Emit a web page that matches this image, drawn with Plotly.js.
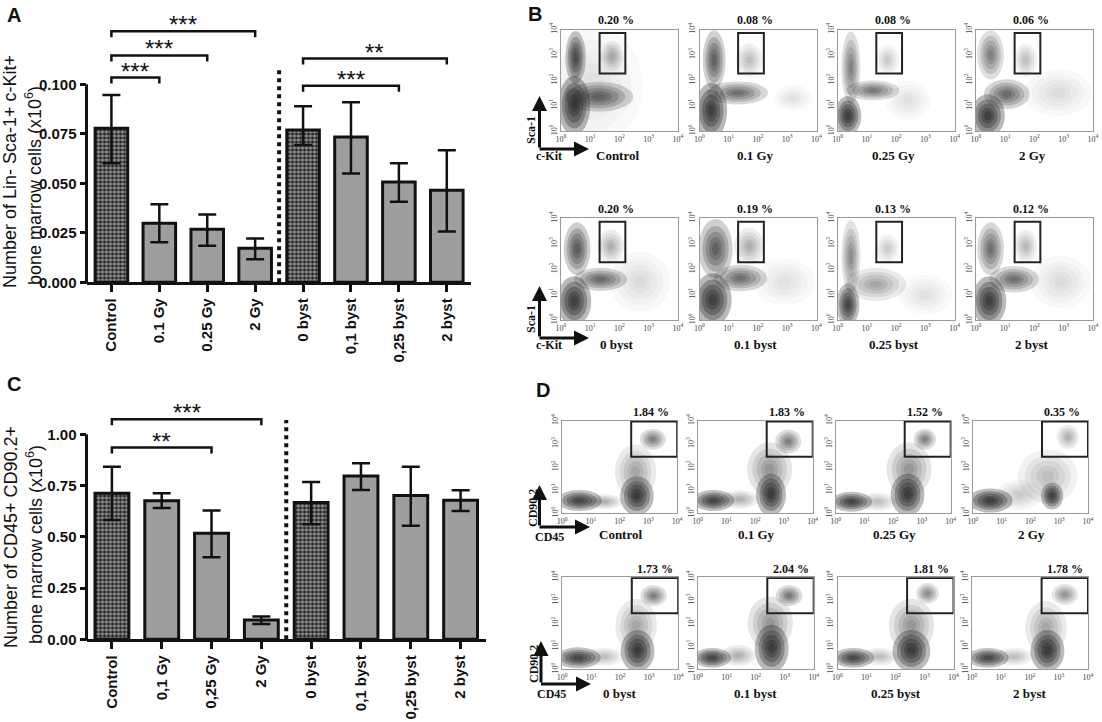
<!DOCTYPE html>
<html><head><meta charset="utf-8">
<script src="https://cdn.plot.ly/plotly-3.0.1.min.js"></script>
<style>html,body{margin:0;padding:0;background:#fff}#chart{width:1102px;height:722px}</style>
</head><body><div id="chart"></div>
<script>
// ---------------- DATA ----------------
const categoriesA = ['Control','0.1 Gy','0.25 Gy','2 Gy','0 byst','0,1 byst','0,25 byst','2 byst'];
const meanA  = [0.0778,0.0298,0.0268,0.0172,0.0769,0.0734,0.0507,0.0465];
const upperA = [0.0946,0.0394,0.0343,0.0221,0.0889,0.0909,0.0601,0.0667];
const lowerA = [0.0601,0.0202,0.0185,0.0116,0.0694,0.0549,0.0407,0.0256];
const patternedA = [true,false,false,false,true,false,false,false];
const sigFromA = [0,0,0,4,4];
const sigToA   = [3,2,1,7,6];
const sigLevelA = [0.1268,0.1146,0.1034,0.1130,0.0993];
const sigTextA = ['***','***','***','**','***'];
const yTicksA = [0,0.025,0.05,0.075,0.1];

const categoriesC = ['Control','0,1 Gy','0,25 Gy','2 Gy','0 byst','0,1 byst','0,25 byst','2 byst'];
const meanC  = [0.712,0.676,0.517,0.094,0.667,0.797,0.701,0.678];
const upperC = [0.842,0.712,0.628,0.111,0.767,0.859,0.842,0.727];
const lowerC = [0.582,0.640,0.400,0.075,0.561,0.728,0.554,0.626];
const patternedC = [true,false,false,false,true,false,false,false];
const sigFromC = [0,0];
const sigToC   = [3,2];
const sigLevelC = [1.073,0.935];
const sigTextC = ['***','**'];
const yTicksC = [0,0.25,0.5,0.75,1];

const titleA = ['Number of Lin- Sca-1+ c-Kit+','bone marrow cells (x10<sup>6</sup>)'];
const titleC = ['Number of CD45+ CD90.2+','bone marrow cells (x10<sup>6</sup>)'];

const bTopConditions = ['Control','0.1 Gy','0.25 Gy','2 Gy'];
const bTopPercents = ['0.20 %','0.08 %','0.08 %','0.06 %'];
const bBottomConditions = ['0 byst','0.1 byst','0.25 byst','2 byst'];
const bBottomPercents = ['0.20 %','0.19 %','0.13 %','0.12 %'];
const dTopConditions = ['Control','0.1 Gy','0.25 Gy','2 Gy'];
const dTopPercents = ['1.84 %','1.83 %','1.52 %','0.35 %'];
const dBottomConditions = ['0 byst','0.1 byst','0.25 byst','2 byst'];
const dBottomPercents = ['1.73 %','2.04 %','1.81 %','1.78 %'];
const decadeTickText = ['10<sup>0</sup>','10<sup>1</sup>','10<sup>2</sup>','10<sup>3</sup>','10<sup>4</sup>'];
const decadeTickVals = [0,1,2,3,4];
// gates in log10 units: [x0, x1, y0, y1]
const gateB = [1.32, 2.2, 2.27, 3.86];
const gateD = [2.4, 4.0, 2.44, 3.97];
// populations (log10 units): [cx, cy, rx, ry, density]
const clustersBTop = [
 [[0.45,1.0,0.42,0.9,0.95],[0.5,2.9,0.27,0.8,0.8],[1.3,1.35,0.9,0.45,0.6],[1.75,2.95,0.3,0.45,0.25],[1.1,1.8,1.3,1.8,0.08]],
 [[0.4,0.8,0.42,0.85,0.95],[0.5,2.8,0.3,0.9,0.65],[1.3,1.5,0.8,0.35,0.55],[1.7,2.8,0.35,0.5,0.2],[3.2,1.3,0.5,0.4,0.08]],
 [[0.35,0.6,0.35,0.6,0.95],[0.45,2.5,0.25,1.1,0.45],[1.2,1.6,0.7,0.3,0.5],[1.7,2.8,0.3,0.45,0.15],[2.4,1.2,0.6,0.6,0.08]],
 [[0.4,0.6,0.45,0.65,0.95],[1.05,1.45,0.6,0.45,0.6],[0.5,3.0,0.35,0.75,0.45],[1.7,2.8,0.3,0.5,0.2],[2.8,1.5,0.9,0.7,0.1]]
];
const clustersBBottom = [
 [[0.45,0.75,0.45,0.75,0.95],[0.55,2.8,0.35,0.8,0.7],[1.35,1.6,0.7,0.35,0.6],[1.7,2.9,0.35,0.5,0.25],[2.7,1.5,0.8,0.9,0.1]],
 [[0.45,0.8,0.5,0.8,0.95],[0.55,2.8,0.45,0.9,0.65],[1.4,1.65,0.7,0.4,0.55],[1.7,2.9,0.4,0.55,0.25],[2.9,1.5,0.8,0.7,0.08]],
 [[0.35,0.6,0.3,0.65,0.9],[0.45,2.5,0.25,1.1,0.4],[1.3,1.4,0.8,0.5,0.3],[1.7,2.8,0.3,0.45,0.15],[3.0,1.0,0.7,0.6,0.08]],
 [[0.45,0.75,0.45,0.75,0.95],[0.5,2.8,0.35,0.8,0.55],[1.3,1.6,0.65,0.4,0.55],[1.7,2.9,0.3,0.5,0.22],[2.9,1.5,0.8,0.8,0.1]]
];
const clustersDTop = [
 [[0.6,0.55,0.6,0.35,0.9],[1.45,0.5,0.5,0.25,0.25],[2.6,0.75,0.45,0.65,0.95],[2.55,1.8,0.55,0.9,0.3],[3.15,3.2,0.35,0.35,0.45]],
 [[0.55,0.55,0.55,0.35,0.9],[1.45,0.6,0.5,0.3,0.25],[2.55,0.8,0.4,0.7,0.95],[2.5,1.9,0.6,0.9,0.35],[3.15,3.1,0.35,0.4,0.45]],
 [[0.55,0.5,0.55,0.33,0.9],[1.45,0.5,0.5,0.3,0.2],[2.5,0.8,0.45,0.7,0.95],[2.55,1.9,0.6,0.9,0.35],[3.1,3.2,0.3,0.35,0.45]],
 [[0.6,0.55,0.6,0.4,0.95],[1.6,0.8,0.6,0.5,0.15],[2.75,0.75,0.3,0.45,0.9],[2.6,1.6,0.8,0.9,0.2],[3.3,3.3,0.3,0.4,0.25]]
];
const clustersDBottom = [
 [[0.55,0.5,0.6,0.35,0.9],[1.45,0.55,0.5,0.3,0.2],[2.6,0.8,0.45,0.7,0.95],[2.55,1.9,0.55,0.9,0.3],[3.15,3.2,0.35,0.35,0.45]],
 [[0.5,0.5,0.5,0.33,0.9],[1.4,0.6,0.45,0.35,0.25],[2.55,0.9,0.45,0.8,0.95],[2.5,2.0,0.6,0.9,0.35],[3.15,3.2,0.35,0.35,0.5]],
 [[0.55,0.5,0.55,0.33,0.85],[1.45,0.55,0.5,0.3,0.2],[2.55,0.8,0.5,0.7,0.95],[2.55,1.9,0.6,0.9,0.35],[3.1,3.3,0.3,0.35,0.4]],
 [[0.55,0.5,0.55,0.33,0.85],[1.45,0.55,0.5,0.3,0.2],[2.6,0.8,0.45,0.7,0.95],[2.55,1.8,0.55,0.9,0.3],[3.2,3.25,0.35,0.35,0.35]]
];

// ---------------- LAYOUT HELPERS ----------------
const W = 1102, H = 722;
const px = v => v / W, py = v => 1 - v / H;
const SANS = 'Liberation Sans, Arial, sans-serif';
const SERIF = 'Liberation Serif, Times New Roman, serif';
const traces = [], shapes = [], annotations = [];
const layout = {
  width: W, height: H, margin: {l:0, r:0, t:0, b:0}, showlegend: false,
  paper_bgcolor: '#fff', plot_bgcolor: 'rgba(0,0,0,0)',
  font: {family: SANS, color: '#111'}
};

function barPanel(n, g, cats, mean, upper, lower, patterned, sFrom, sTo, sLevel, sText, yTicks, fmt, title) {
  const xa = 'xaxis' + (n === 1 ? '' : n), ya = 'yaxis' + (n === 1 ? '' : n);
  const xr = 'x' + (n === 1 ? '' : n), yr = 'y' + (n === 1 ? '' : n);
  const xs = cats.map((c, i) => i);
  layout[xa] = {
    domain: [px(g.left), px(g.right)], range: g.xrange, anchor: yr,
    tickvals: xs, ticktext: cats, tickangle: -90,
    tickfont: {family: SANS, size: 15, weight: 'bold', color: '#111'},
    showline: true, linewidth: 3, linecolor: '#111',
    ticks: 'outside', ticklen: 7, tickwidth: 3, tickcolor: '#111',
    showgrid: false, zeroline: false, fixedrange: true
  };
  layout[ya] = {
    domain: [py(g.zeroY), py(g.topPx)], range: [0, (g.zeroY - g.topPx) / g.unitPx], anchor: xr,
    tickvals: yTicks, tickformat: fmt,
    tickfont: {family: SANS, size: 15, weight: 'bold', color: '#111'},
    showline: false, ticks: 'outside', ticklen: 6, tickwidth: 3, tickcolor: '#111',
    showgrid: false, zeroline: false, fixedrange: true
  };
  const top = yTicks[yTicks.length - 1];
  shapes.push({type:'line', xref:'paper', yref:'paper', x0:px(g.left), x1:px(g.left),
    y0:py(g.zeroY + 1.5), y1:py(g.zeroY - top * g.unitPx), line:{color:'#111', width:3}});
  traces.push({
    type:'bar', x: xs, y: mean, xaxis: xr, yaxis: yr, width: 0.68,
    marker: {color:'#9e9e9e', line:{color:'#111', width:3},
      pattern: {shape: patterned.map(p => p ? '.' : ''), fgcolor:'#262626', bgcolor:'#9a9a9a', size:4, solidity:0.55}},
    error_y: {type:'data', symmetric:false,
      array: upper.map((u, i) => u - mean[i]), arrayminus: lower.map((l, i) => mean[i] - l),
      color:'#111', thickness:2.5, width:9},
    hoverinfo:'none'
  });
  traces.push({type:'scatter', mode:'lines', x:[3.5, 3.5], y:[0, g.dividerTop], xaxis:xr, yaxis:yr,
    line:{color:'#111', width:4, dash:'4px,4px'}, hoverinfo:'none'});
  const leg = 6 / g.unitPx;
  sFrom.forEach((f, i) => {
    const t = sTo[i], lv = sLevel[i];
    traces.push({type:'scatter', mode:'lines', x:[f, f, t, t], y:[lv - leg, lv, lv, lv - leg],
      xaxis:xr, yaxis:yr, line:{color:'#111', width:2.5}, hoverinfo:'none', cliponaxis:false});
    annotations.push({xref:xr, yref:yr, x:(f + t) / 2, y:lv, text:sText[i], showarrow:false,
      yanchor:'bottom', yshift:-9, font:{family:SANS, size:24, color:'#111'}});
  });
  annotations.push({xref:'paper', yref:'paper', x:px(g.t1x), y:py(g.t1y), text:title[0], textangle:-90,
    showarrow:false, xanchor:'center', yanchor:'middle', font:{family:SANS, size:18, color:'#111'}});
  annotations.push({xref:'paper', yref:'paper', x:px(g.t2x), y:py(g.t2y), text:title[1], textangle:-90,
    showarrow:false, xanchor:'center', yanchor:'middle', font:{family:SANS, size:18, color:'#111'}});
}

const geomA = {left:86.5, right:471, zeroY:282.3, topPx:4, unitPx:1980, xrange:[-0.52, 7.505], dividerTop:0.1072,
  t1x:10, t1y:172, t2x:33, t2y:186};
const geomC = {left:86.5, right:485.5, zeroY:639.3, topPx:390, unitPx:205, xrange:[-0.51, 7.5], dividerTop:1.07,
  t1x:11, t1y:537, t2x:34, t2y:545};
barPanel(1, geomA, categoriesA, meanA, upperA, lowerA, patternedA, sigFromA, sigToA, sigLevelA, sigTextA, yTicksA, '.3f', titleA);
barPanel(2, geomC, categoriesC, meanC, upperC, lowerC, patternedC, sigFromC, sigToC, sigLevelC, sigTextC, yTicksC, '.2f', titleC);

// ---------------- DOT PLOTS ----------------
const dotRows = [
  {conds:bTopConditions, pcts:bTopPercents, clusters:clustersBTop, gate:gateB,
   lefts:[561,699.5,837.7,976], width:117, top:29.5, bottom:131, pctX:l => l + 55, pctY:20, condX:l => l + 56, condY:155.5},
  {conds:bBottomConditions, pcts:bBottomPercents, clusters:clustersBBottom, gate:gateB,
   lefts:[561,699.5,837.7,976], width:117, top:218.3, bottom:320, pctX:l => l + 55, pctY:209, condX:l => l + 56, condY:344.3},
  {conds:dTopConditions, pcts:dTopPercents, clusters:clustersDTop, gate:gateD,
   lefts:[562.2,697.7,835.7,973], width:115, top:420.7, bottom:513.3, pctX:l => l + 89, pctY:412.3, condX:l => l + 58.5, condY:534.3},
  {conds:dBottomConditions, pcts:dBottomPercents, clusters:clustersDBottom, gate:gateD,
   lefts:[562.2,697.7,837.5,972], width:116, top:577.3, bottom:669.3, pctX:l => l + 93, pctY:569, condX:l => l + 58, condY:693.3}
];
let axisN = 3;
const layers = [1.3, 1, 0.75, 0.5, 0.28];
dotRows.forEach(row => {
  row.lefts.forEach((left, k) => {
    const n = axisN++;
    const xr = 'x' + n, yr = 'y' + n;
    layout['xaxis' + n] = {domain:[px(left), px(left + row.width)], range:[0,4], anchor:yr,
      showline:true, mirror:true, linecolor:'#9a9a9a', linewidth:1,
      tickvals:decadeTickVals, ticktext:decadeTickText, tickangle:0, ticks:'',
      tickfont:{family:SERIF, size:8, color:'#444'}, showgrid:false, zeroline:false, fixedrange:true};
    layout['yaxis' + n] = {domain:[py(row.bottom), py(row.top)], range:[0,4], anchor:xr,
      showline:true, mirror:true, linecolor:'#9a9a9a', linewidth:1,
      tickvals:decadeTickVals, ticktext:decadeTickText, tickangle:-90, ticks:'',
      tickfont:{family:SERIF, size:8, color:'#444'}, showgrid:false, zeroline:false, fixedrange:true};
    traces.push({type:'scatter', mode:'markers', x:[], y:[], xaxis:xr, yaxis:yr, hoverinfo:'none'});
    row.clusters[k].forEach(c => {
      const [cx, cy, rx, ry, d] = c;
      layers.forEach(s => {
        shapes.push({type:'circle', xref:xr, yref:yr, layer:'below',
          x0:cx - rx * s, x1:cx + rx * s, y0:cy - ry * s, y1:cy + ry * s,
          fillcolor:'rgba(30,30,30,' + (d * 0.32).toFixed(3) + ')', line:{width:0}});
      });
    });
    const gt = row.gate;
    shapes.push({type:'rect', xref:xr, yref:yr, layer:'above', x0:gt[0], x1:gt[1], y0:gt[2], y1:gt[3],
      line:{color:'#222', width:2}, fillcolor:'rgba(0,0,0,0)'});
    annotations.push({xref:'paper', yref:'paper', x:px(row.pctX(left)), y:py(row.pctY), text:'<b>' + row.pcts[k] + '</b>',
      showarrow:false, xanchor:'center', yanchor:'middle', font:{family:SERIF, size:12, color:'#111'}});
    annotations.push({xref:'paper', yref:'paper', x:px(row.condX(left)), y:py(row.condY), text:'<b>' + row.conds[k] + '</b>',
      showarrow:false, xanchor:'center', yanchor:'middle', font:{family:SERIF, size:13, color:'#111'}});
  });
});

const arrowSets = [
  {vx:539.5, vBottom:149, vTop:96, hRight:589, yLabel:'Sca-1', yLabelX:531, yLabelY:130, xLabel:'c-Kit', xLabelX:549, xLabelY:156},
  {vx:539.5, vBottom:338, vTop:286, hRight:589, yLabel:'Sca-1', yLabelX:531, yLabelY:319, xLabel:'c-Kit', xLabelX:549, xLabelY:345},
  {vx:539.5, vBottom:527, vTop:485, hRight:590, yLabel:'CD90.2', yLabelX:533, yLabelY:508, xLabel:'CD45', xLabelX:549, xLabelY:536.5},
  {vx:541, vBottom:684, vTop:641, hRight:591, yLabel:'CD90.2', yLabelX:534, yLabelY:664, xLabel:'CD45', xLabelX:551, xLabelY:693.5}
];
arrowSets.forEach(a => {
  annotations.push({xref:'paper', yref:'paper', x:px(a.vx), y:py(a.vTop), ax:0, ay:a.vBottom - a.vTop,
    text:'', showarrow:true, arrowhead:2, arrowsize:1, arrowwidth:3, arrowcolor:'#111', standoff:0, startstandoff:0});
  annotations.push({xref:'paper', yref:'paper', x:px(a.hRight), y:py(a.vBottom), ax:a.vx - a.hRight - 1.5, ay:0,
    text:'', showarrow:true, arrowhead:2, arrowsize:1, arrowwidth:3, arrowcolor:'#111', standoff:0, startstandoff:0});
  annotations.push({xref:'paper', yref:'paper', x:px(a.yLabelX), y:py(a.yLabelY), text:'<b>' + a.yLabel + '</b>', textangle:-90,
    showarrow:false, xanchor:'center', yanchor:'middle', font:{family:SERIF, size:12, color:'#111'}});
  annotations.push({xref:'paper', yref:'paper', x:px(a.xLabelX), y:py(a.xLabelY), text:'<b>' + a.xLabel + '</b>',
    showarrow:false, xanchor:'center', yanchor:'middle', font:{family:SERIF, size:12, color:'#111'}});
});

[['A',14,15],['B',535,14],['C',14,384],['D',543,390]].forEach(l => {
  annotations.push({xref:'paper', yref:'paper', x:px(l[1]), y:py(l[2]), text:'<b>' + l[0] + '</b>',
    showarrow:false, xanchor:'center', yanchor:'middle', font:{family:SANS, size:20, color:'#111'}});
});

layout.shapes = shapes;
layout.annotations = annotations;
Plotly.newPlot('chart', traces, layout, {staticPlot:true, displayModeBar:false});
</script>
</body></html>
